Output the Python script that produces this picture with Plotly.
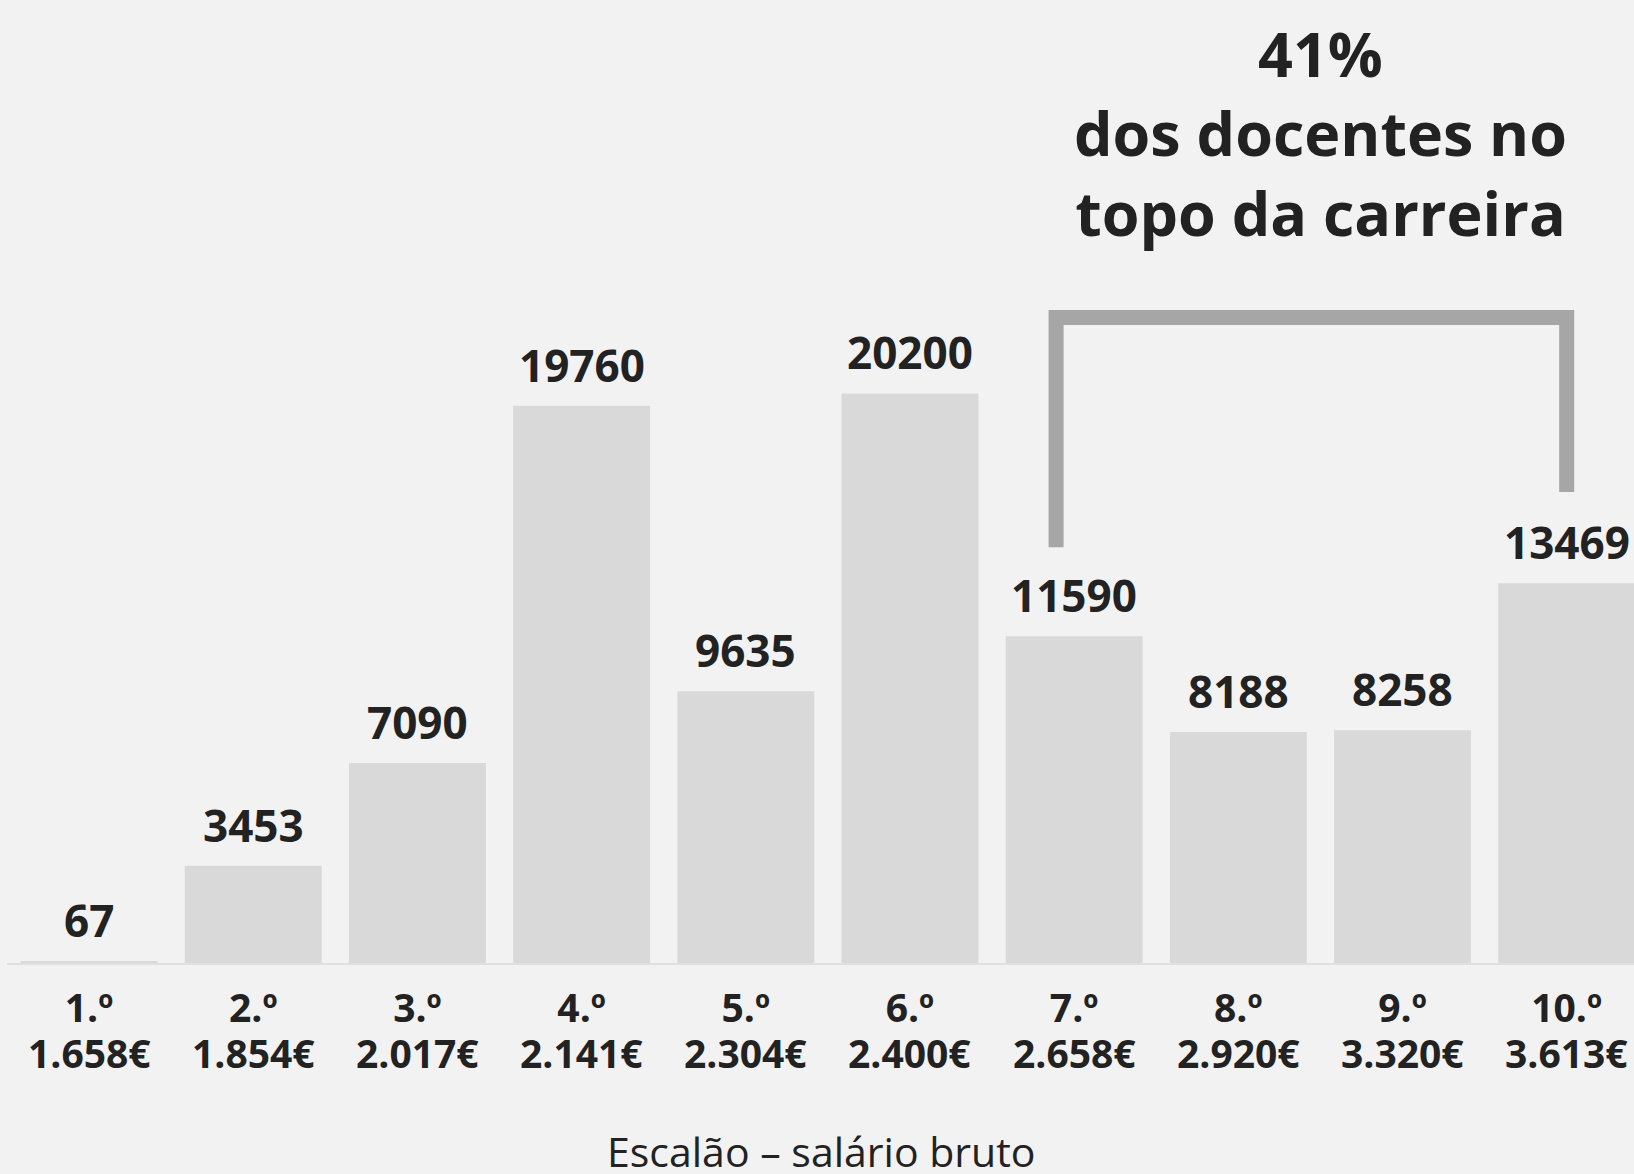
import plotly.graph_objects as go

# data
escaloes = ["1.º", "2.º", "3.º", "4.º", "5.º", "6.º", "7.º", "8.º", "9.º", "10.º"]
salarios = ["1.658€", "1.854€", "2.017€", "2.141€", "2.304€",
            "2.400€", "2.658€", "2.920€", "3.320€", "3.613€"]
docentes = [67, 3453, 7090, 19760, 9635, 20200, 11590, 8188, 8258, 13469]

BG = "#f2f2f2"
BAR = "#d9d9d9"
INK = "#222222"
BRACKET = "#a6a6a6"
FONT = "Open Sans"

x = list(range(len(escaloes)))

fig = go.Figure()
fig.add_trace(go.Bar(
    x=x, y=docentes, width=0.834,
    marker=dict(color=BAR, line=dict(width=0)),
    hoverinfo="skip",
))

# value labels above bars
for xi, v in zip(x, docentes):
    fig.add_annotation(
        x=xi, y=v, xref="x", yref="y", text=f"<b>{v}</b>",
        showarrow=False, yanchor="bottom", yshift=9,
        font=dict(family=FONT, size=44, color=INK),
    )

# second line of the category labels (salary)
for xi, s in zip(x, salarios):
    fig.add_annotation(
        x=xi, y=0, xref="x", yref="y", text=f"<b>{s}</b>",
        showarrow=False, yanchor="middle", yshift=-89,
        font=dict(family=FONT, size=39, color=INK),
    )

# axis title
fig.add_annotation(
    x=0.5, xref="paper", y=0, yref="paper", yanchor="middle", yshift=-188,
    text="Escalão – salário bruto", showarrow=False,
    font=dict(family=FONT, size=41, color=INK),
)

# bracket over the top of the career (7.º to 10.º)
top = 22890
left_end = docentes[6] + 3150
right_end = docentes[9] + 3230
fig.add_shape(
    type="path", xref="x", yref="y",
    path=f"M {6 - 0.11},{left_end} L {6 - 0.11},{top} L 9,{top} L 9,{right_end}",
    line=dict(color=BRACKET, width=15),
)

fig.add_annotation(
    x=7.5, xref="x", y=1.0, yref="paper", yanchor="top", yshift=-10,
    text="<b>41%<br>dos docentes no<br>topo da carreira</b>",
    showarrow=False, align="center",
    font=dict(family=FONT, size=61, color=INK),
)

fig.update_layout(
    width=1634, height=1174,
    margin=dict(l=7, r=0, t=0, b=211),
    paper_bgcolor=BG, plot_bgcolor=BG,
    showlegend=False,
    font=dict(family=FONT, color=INK),
    xaxis=dict(
        range=[-0.5, 9.41], tickvals=x,
        ticktext=[f"<b>{e}</b>" for e in escaloes],
        tickfont=dict(size=39, color=INK), ticks="", ticklabelstandoff=10,
        showgrid=False, zeroline=False,
        showline=True, linecolor="#e0e0e0", linewidth=2,
    ),
    yaxis=dict(range=[0, 34150], visible=False, showgrid=False, zeroline=False),
)

fig.write_html("out.html", config={"displayModeBar": False},
               post_script="document.body.style.margin='0';")
